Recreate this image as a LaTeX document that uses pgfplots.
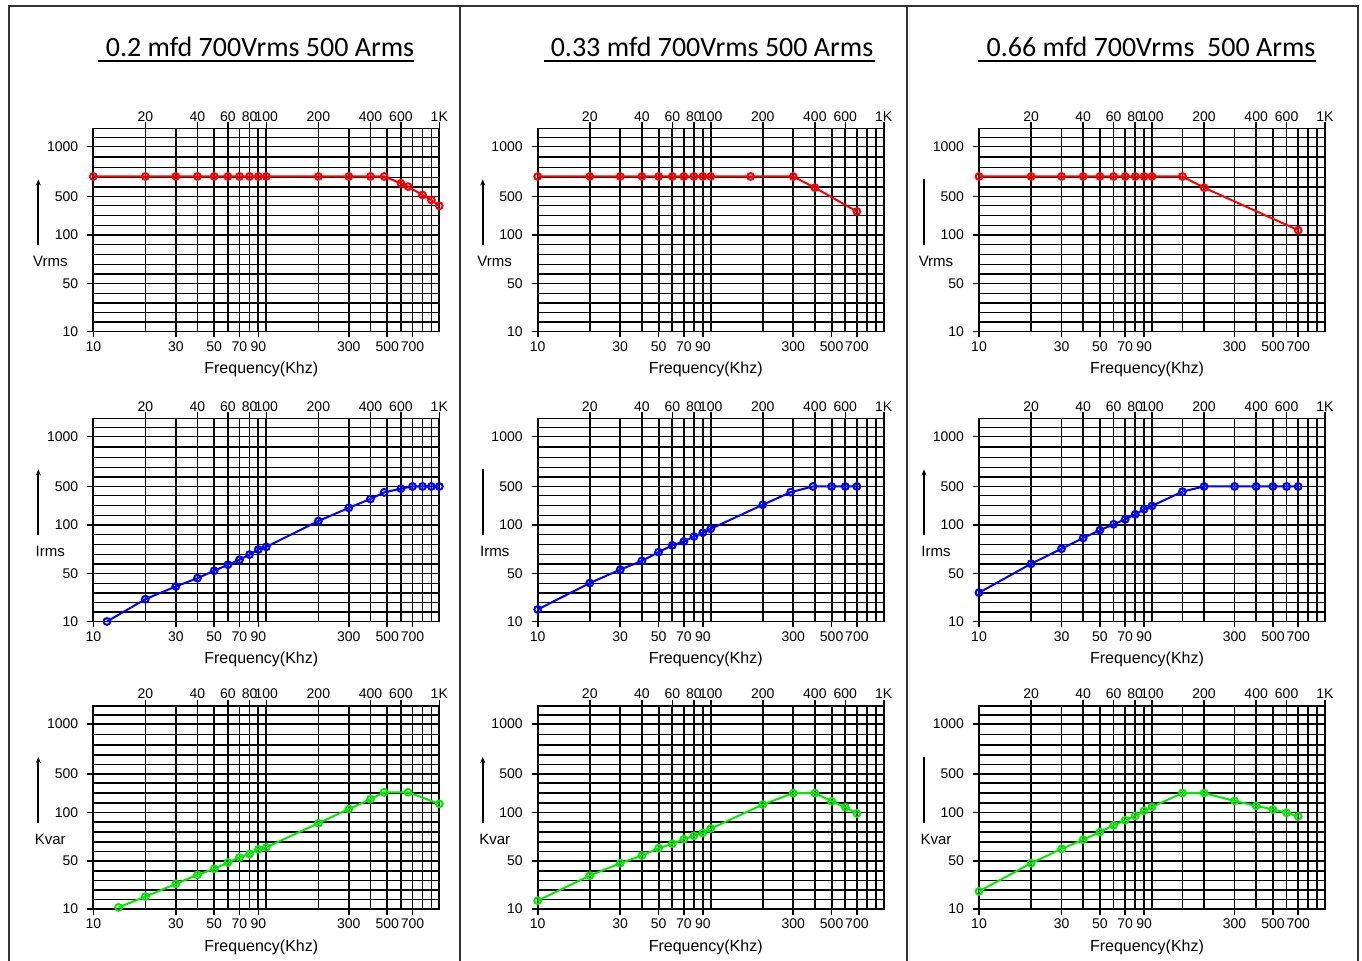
\documentclass[border=0pt]{standalone}
\usepackage{pgfplots}
\pgfplotsset{compat=1.18}
\usepackage{fontspec}
\setmainfont{Liberation Sans}
\newfontfamily\titlefont{Carlito}
\usetikzlibrary{arrows.meta}

\definecolor{cRed}{RGB}{255,0,0}
\definecolor{cBlue}{RGB}{0,0,255}
\definecolor{cGreen}{RGB}{0,235,0}

% the y scale of the original is piecewise: 10,50,100,500,1000 sit at fixed heights
\pgfplotsset{
  rkpanel/.style={
    scale only axis, width=173pt, height=101.5pt,
    xmin=10, xmax=1000, ymin=0, ymax=203,
    xtick={10,30,50,70,90,300,500,700},
    xticklabels={10,30,50,70,90,300,500,700},
    minor xtick={20,40,60,80,100,200,400,600,800,900,1000},
    ytick={0,48,96.5,135,185},
    yticklabels={10,50,100,500,1000},
    minor ytick={9.5,19,28.5,38,57.5,67,77,87,106,116,126,144.5,154,164,174.5,194,203},
    grid=both,
    major grid style={black, line width=0.9pt},
    minor grid style={black, line width=0.85pt},
    tick align=outside, xtick pos=left, ytick pos=left,
    major tick length=3pt, minor tick length=0pt,
    tick style={black, line width=0.8pt},
    axis line style={line width=0.9pt},
    ticklabel style={font=\fontsize{7}{8}\selectfont},
    yticklabel style={xshift=-1pt},
    xticklabel style={yshift=1.5pt},
    clip=false,
    y filter/.expression={y<=50 ? (y-10)*1.2 : (y<=100 ? 48+(y-50)*0.97 : (y<=500 ? 96.5+(y-100)*0.09625 : 135+(y-500)*0.1))},
  },
  rktop/.style={
    scale only axis, width=173pt, height=101.5pt,
    xmin=10, xmax=1000, ymin=0, ymax=203,
    axis x line*=top, axis y line=none,
    xtick={20,40,60,80,100,200,400,600,1000},
    xticklabels={20,40,60,80,100,200,400,600,1K},
    xminorticks=false,
    tick align=outside, major tick length=3pt,
    tick style={black, line width=0.8pt},
    axis line style={line width=0.9pt},
    ticklabel style={font=\fontsize{7}{8}\selectfont},
    xticklabel style={yshift=-3pt},
  },
  rkcurve/.style={line width=1pt, mark=o, mark size=1.7pt, mark options={line width=1pt}},
}

% #1 x, #2 y, #3 quantity, #4 colour, #5 data, #6 extra axis options, #7 arrow tip
\newcommand\drawpanel[7]{%
  \begin{semilogxaxis}[rkpanel, at={(#1,#2)}, #6]
    \addplot[rkcurve, #4] coordinates {#5};
    \draw[line width=0.9pt, #7] ([xshift=-27.5pt, yshift=43pt]rel axis cs:0,0) -- ([xshift=-27.5pt, yshift=76pt]rel axis cs:0,0);
    \node[font=\fontsize{7.5}{9}\selectfont] at ([xshift=-21.5pt, yshift=35pt]rel axis cs:0,0) {#3};
    \node[font=\fontsize{8}{10}\selectfont] at ([xshift=-2.5pt, yshift=-19pt]rel axis cs:0.5,0) {Frequency(Khz)};
  \end{semilogxaxis}
  \begin{semilogxaxis}[rktop, at={(#1,#2)}]
  \end{semilogxaxis}%
}

\begin{document}
\begin{tikzpicture}
\useasboundingbox (0,0) rectangle (681pt,480.5pt);
\draw[line width=1pt, black!80] (4.5pt,-1pt) -- (4.5pt,477.5pt) -- (679pt,477.5pt) -- (679pt,-1pt);
\draw[line width=1pt, black!80] (230pt,-1pt) -- (230pt,477.5pt);
\draw[line width=1pt, black!80] (453.5pt,-1pt) -- (453.5pt,477.5pt);

\node[font=\titlefont\fontsize{14}{16}\selectfont] at (130pt,457pt) {0.2 mfd 700Vrms 500 Arms};
\draw[line width=0.7pt] (49pt,450pt) -- (207pt,450pt);
\node[font=\titlefont\fontsize{14}{16}\selectfont] at (356pt,457pt) {0.33 mfd 700Vrms 500 Arms};
\draw[line width=0.7pt] (272pt,450pt) -- (437.5pt,450pt);
\node[font=\titlefont\fontsize{14}{16}\selectfont] at (575.5pt,457pt) {0.66 mfd 700Vrms\ \ 500 Arms};
\draw[line width=0.7pt] (489pt,450pt) -- (658pt,450pt);

% row 1: Vrms
\drawpanel{46.65pt}{314.75pt}{Vrms}{cRed}{(10,700)(20,700)(30,700)(40,700)(50,700)(60,700)(70,700)(80,700)(90,700)(100,700)(200,700)(300,700)(400,700)(480,700)(600,632)(660,598)(800,515)(900,464)(1000,403)}{}{-{Stealth[length=3pt,width=2.5pt]}}
\drawpanel{268.85pt}{314.75pt}{Vrms}{cRed}{(10,700)(20,700)(30,700)(40,700)(50,700)(60,700)(70,700)(80,700)(90,700)(100,700)(170,700)(300,700)(400,588)(700,344)}{}{-{Stealth[length=3pt,width=2.5pt]}}
\drawpanel{489.5pt}{314.75pt}{Vrms}{cRed}{(10,700)(20,700)(30,700)(40,700)(50,700)(60,700)(70,700)(80,700)(90,700)(100,700)(150,700)(200,588)(700,150)}{extra x ticks={150}, extra x tick labels={}, extra x tick style={grid=major, major tick length=0pt}}{-}

% row 2: Irms
\drawpanel{46.65pt}{169.75pt}{Irms}{cBlue}{(12,10)(20,28.6)(30,39.2)(40,46.1)(50,52.8)(60,59)(70,64.2)(80,69.5)(90,74.7)(100,77.4)(200,141)(300,278)(400,370)(480,439)(600,477)(700,500)(800,500)(900,500)(1000,500)}{}{-{Stealth[length=3pt,width=2.5pt]}}
\drawpanel{268.85pt}{169.75pt}{Irms}{cBlue}{(10,20)(20,42)(30,54)(40,63)(50,72)(60,79)(70,83)(80,88)(90,92)(100,96)(200,310)(290,441)(390,500)(500,500)(600,500)(700,500)}{}{-}
\drawpanel{489.5pt}{169.75pt}{Irms}{cBlue}{(10,34)(20,60)(30,75.5)(40,86.6)(50,94.6)(60,107)(70,159)(80,211)(90,263)(100,298)(150,447)(200,500)(300,500)(400,500)(500,500)(600,500)(700,500)}{extra x ticks={150}, extra x tick labels={}, extra x tick style={grid=major, major tick length=0pt}}{-{Stealth[length=3pt,width=2.5pt]}}

% row 3: Kvar
\drawpanel{46.65pt}{26pt}{Kvar}{cGreen}{(14,11.3)(20,20.3)(30,30.9)(40,38.4)(50,43.5)(60,48.7)(70,53.7)(80,57.2)(90,62)(100,64.1)(200,88.9)(300,136)(400,238)(480,310)(660,310)(1000,190)}{}{-{Stealth[length=3pt,width=2.5pt]}}
\drawpanel{268.85pt}{26pt}{Kvar}{cGreen}{(10,16.9)(20,37.8)(30,48.1)(40,55.5)(50,63.2)(60,67.7)(70,72.6)(80,76)(90,78.9)(100,83.3)(200,182)(300,302)(400,302)(500,216)(600,154)(700,99)}{}{-{Stealth[length=3pt,width=2.5pt]}}
\drawpanel{489.5pt}{26pt}{Kvar}{cGreen}{(10,24.7)(20,48.1)(30,62.5)(40,71.9)(50,79.9)(60,86.8)(70,92)(80,96.5)(90,117)(100,158)(150,302)(200,302)(300,220)(400,169)(500,131)(600,99.7)(700,96)}{extra x ticks={150}, extra x tick labels={}, extra x tick style={grid=major, major tick length=0pt}}{-}
\end{tikzpicture}
\end{document}
